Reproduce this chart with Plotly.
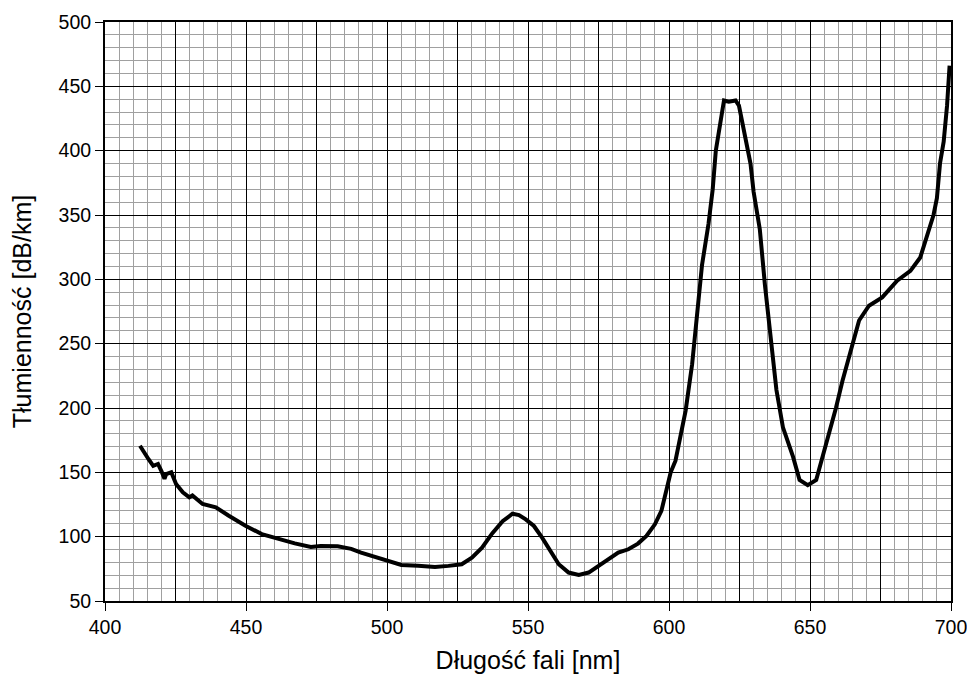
import plotly.graph_objects as go

wavelength_nm = [
    412.4, 414.1, 415.5, 417.1, 418.8, 420.0, 421.1, 421.7, 423.5, 425.2,
    427.6, 429.9, 431.0, 434.6, 439.3, 443.9, 449.8, 455.6, 461.4, 467.3,
    473.0, 476.5, 482.5, 487.3, 490.8, 494.4, 498.0, 501.5, 505.1, 511.0,
    517.0, 521.8, 526.5, 530.1, 533.7, 537.3, 541.0, 544.5, 546.8, 549.2,
    552.1, 555.0, 558.0, 560.9, 564.4, 568.0, 571.5, 575.0, 578.5, 582.0,
    585.6, 589.0, 592.0, 595.0, 597.3, 599.0, 600.6, 602.3, 605.9, 608.2,
    610.0, 611.7, 614.0, 615.5, 616.6, 618.3, 619.5, 621.2, 623.6, 624.8,
    626.0, 627.7, 628.9, 630.0, 632.2, 634.0, 636.3, 638.1, 640.4, 644.0,
    646.3, 649.2, 652.2, 655.1, 659.2, 661.5, 663.9, 667.4, 670.9, 675.6,
    680.9, 685.6, 689.1, 691.4, 693.8, 695.0, 696.1, 697.4, 698.6, 699.5,
]
attenuation_db_km = [
    170.7, 164.0, 160.0, 155.0, 156.5, 151.0, 145.0, 148.7, 150.0, 141.0,
    134.5, 130.6, 132.0, 125.4, 122.8, 116.3, 108.5, 102.0, 98.2, 94.8,
    92.0, 92.8, 92.5, 90.5, 87.6, 85.0, 82.4, 80.4, 78.0, 77.3,
    76.5, 77.3, 78.6, 83.7, 91.5, 102.5, 112.0, 117.8, 116.8, 113.4,
    108.3, 99.2, 88.9, 78.6, 72.1, 70.3, 72.1, 77.3, 82.4, 87.6,
    90.2, 94.6, 100.5, 109.6, 120.0, 135.0, 150.0, 159.0, 198.0, 234.0,
    275.0, 311.0, 343.0, 370.0, 400.0, 422.0, 439.0, 438.0, 439.0, 435.0,
    422.0, 404.0, 390.0, 368.0, 339.0, 296.0, 250.0, 214.0, 185.0, 162.0,
    144.0, 140.0, 144.0, 167.0, 200.0, 221.0, 239.0, 268.0, 279.5, 286.0,
    299.0, 306.6, 317.0, 332.0, 350.0, 363.0, 390.0, 407.0, 435.0, 466.0,
]

x_title = "Długość fali [nm]"
y_title = "Tłumienność [dB/km]"
x_range = [400, 700]
y_range = [50, 500]
x_tickvals = [400, 450, 500, 550, 600, 650, 700]
y_tickvals = [50, 100, 150, 200, 250, 300, 350, 400, 450, 500]

tick_font = dict(family="Liberation Sans Narrow, Arial Narrow, Liberation Sans, Arial", size=19.5, color="black")
title_font = dict(family="Liberation Sans, Arial, sans-serif", size=25, color="black")
minor_grey = "#a0a0a0"

fig = go.Figure()
fig.add_trace(go.Scatter(
    x=wavelength_nm, y=attenuation_db_km, mode="lines",
    line=dict(color="black", width=4), showlegend=False, hoverinfo="skip",
))
# invisible trace on the overlay axis so it renders
fig.add_trace(go.Scatter(
    x=[x_range[0]], y=[y_range[0]], xaxis="x2", mode="markers",
    marker=dict(opacity=0), showlegend=False, hoverinfo="skip",
))

fig.update_layout(
    width=967, height=675,
    margin=dict(l=105, r=16, t=22, b=74),
    paper_bgcolor="white", plot_bgcolor="white",
    xaxis=dict(
        range=x_range, tickmode="array", tickvals=x_tickvals,
        ticks="outside", ticklen=8, tickwidth=1, automargin=False,
        tickcolor="black", tickfont=tick_font, ticklabeloverflow="allow",
        showgrid=True, gridcolor="black", gridwidth=1,
        minor=dict(tick0=400, dtick=5, showgrid=True, gridcolor=minor_grey, gridwidth=1, ticks=""),
        showline=True, linecolor="black", linewidth=2, mirror=True,
        zeroline=False,
        title=dict(text=x_title, font=title_font, standoff=14),
    ),
    xaxis2=dict(
        range=x_range, overlaying="x", side="bottom", tick0=425, dtick=50,
        showgrid=True, gridcolor="black", gridwidth=1, showticklabels=False,
        ticks="", zeroline=False, showline=False, automargin=False,
    ),
    yaxis=dict(
        range=y_range, tickmode="array", tickvals=y_tickvals,
        ticks="outside", ticklen=8, tickwidth=1, automargin=False,
        tickcolor="black", tickfont=tick_font, ticklabeloverflow="allow",
        showgrid=True, gridcolor="black", gridwidth=1,
        minor=dict(tick0=50, dtick=10, showgrid=True, gridcolor=minor_grey, gridwidth=1, ticks=""),
        showline=True, linecolor="black", linewidth=2, mirror=True,
        zeroline=False,
        title=dict(text=y_title, font=title_font, standoff=20),
    ),
)

fig.write_html("out.html")
